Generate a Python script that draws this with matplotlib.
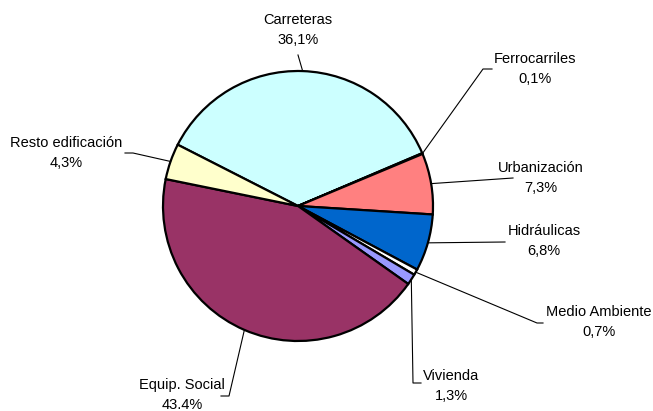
import matplotlib.pyplot as plt
import numpy as np

plt.rcParams['font.family'] = ['Liberation Sans', 'DejaVu Sans']

# data
labels = ['Carreteras', 'Ferrocarriles', 'Urbanización', 'Hidráulicas',
          'Medio Ambiente', 'Vivienda', 'Equip. Social', 'Resto edificación']
values = [36.1, 0.1, 7.3, 6.8, 0.7, 1.3, 43.4, 4.3]
pct_text = ['36,1%', '0,1%', '7,3%', '6,8%', '0,7%', '1,3%', '43.4%', '4,3%']
colors = ['#CCFFFF', '#000080', '#FF8080', '#0066CC',
          '#FFFFFF', '#9999FF', '#993366', '#FFFFCC']

W, H = 653, 411
cx, cy, R = 298, 206, 135

# label text centres (pixel coords, y down) and leader elbows
text_pos = [(298, 30), (535, 69), (541, 178), (544, 241),
            (599, 322), (451, 386), (182, 395), (66, 153)]
elbows = [[(298, 55)],
          [(483, 69), (492, 69)],
          [(513, 178)],
          [(505, 242)],
          [(537, 323), (543, 323)],
          [(413, 383), (421, 383)],
          [(229, 396), (221, 396)],
          [(133, 153), (125, 153)]]

fig = plt.figure(figsize=(W / 100, H / 100), dpi=100)
ax = fig.add_axes([0, 0, 1, 1])

wedges, _ = ax.pie(values, colors=colors, startangle=153, counterclock=False,
                   center=(cx, H - cy), radius=R, frame=True,
                   wedgeprops=dict(edgecolor='black', linewidth=1.6))
ax.set_xlim(0, W)
ax.set_ylim(0, H)
ax.set_aspect('equal')
ax.axis('off')

for w, lab, pct, tp, el in zip(wedges, labels, pct_text, text_pos, elbows):
    mid = np.deg2rad((w.theta1 + w.theta2) / 2)
    x0 = cx + R * np.cos(mid)
    y0 = (H - cy) + R * np.sin(mid)
    xs = [x0] + [p[0] for p in el]
    ys = [y0] + [H - p[1] for p in el]
    ax.plot(xs, ys, color='black', linewidth=0.8)
    ax.text(tp[0], H - tp[1], lab + '\n' + pct, ha='center', va='center',
            fontsize=10.5, linespacing=1.6, color='black')

fig.savefig('out.png', dpi=100)
